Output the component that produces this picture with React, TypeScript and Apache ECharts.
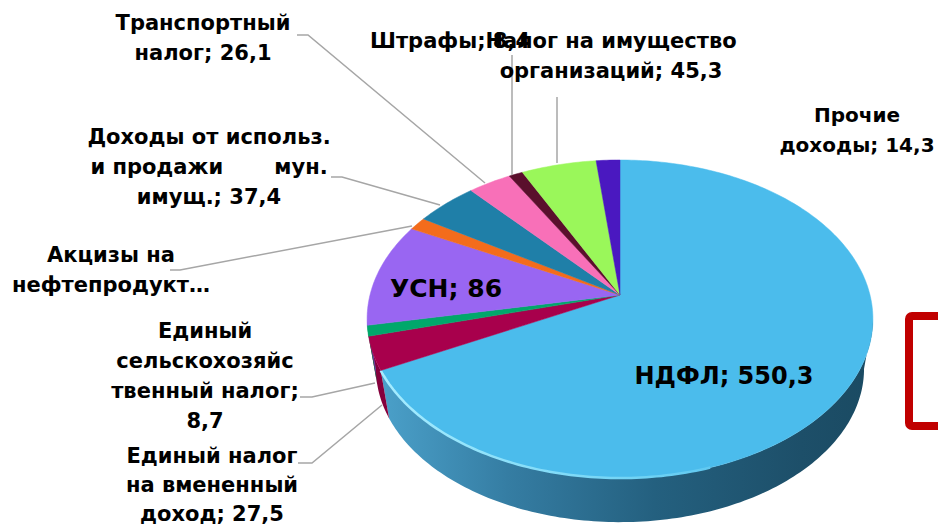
import React, { useEffect, useRef } from "react";
import * as echarts from "echarts";

const categories = [
  "НДФЛ",
  "Единый налог на вмененный доход",
  "Единый сельскохозяйственный налог",
  "УСН",
  "Акцизы на нефтепродукты",
  "Доходы от использ. и продажи мун. имущ.",
  "Транспортный налог",
  "Штрафы",
  "Налог на имущество организаций",
  "Прочие доходы",
];
const values = [550.3, 27.5, 8.7, 86, 11, 37.4, 26.1, 8.4, 45.3, 14.3];
const sliceColors = ["#4bbcec", "#a8004c", "#00a86b", "#9966f2", "#f36c1c", "#1f7fa8", "#f870b8", "#5a0f2c", "#9af75a", "#4a18c0"];
const wallColors = ["#2f7498", "#85003c", "#007a4c", "#6a45b0", "#b04c10", "#155a78", "#b04c84", "#3a0a1c", "#6cb040", "#301080"];

const FONT = "'DejaVu Sans', sans-serif";

// Label layout: [lines, anchor x, first line middle y, line step]
const labels: { lines: string[]; x: number; y: number; align?: string; size?: number; step?: number }[] = [
  { lines: ["Транспортный", "налог; 26,1"], x: 203, y: 23 },
  { lines: ["Штрафы; 8,4"], x: 370, y: 41, align: "left" },
  { lines: ["Налог на имущество", "организаций; 45,3"], x: 611, y: 41 },
  { lines: ["Прочие", "доходы; 14,3"], x: 857, y: 115, size: 20 },
  { lines: ["Доходы от использ.", "и продажи       мун.", "имущ.; 37,4"], x: 209, y: 137 },
  { lines: ["Акцизы на"], x: 111, y: 255 },
  { lines: ["нефтепродукт…"], x: 111, y: 285 },
  { lines: ["Единый", "сельскохозяйс", "твенный налог;", "8,7"], x: 205, y: 331 },
  { lines: ["Единый налог", "на вмененный", "доход; 27,5"], x: 212, y: 456, step: 29 },
  { lines: ["НДФЛ; 550,3"], x: 724, y: 376, size: 24 },
  { lines: ["УСН; 86"], x: 446, y: 288, size: 25 },
];

const leaders: number[][][] = [
  [[297, 35], [308, 35], [485, 183]],
  [[512, 55], [512, 175]],
  [[557, 97], [557, 163]],
  [[331, 177], [342, 177], [440, 205]],
  [[170, 270], [180, 270], [412, 226]],
  [[300, 397], [312, 397], [375, 383]],
  [[298, 463], [312, 463], [382, 405]],
];

// Pie projection
const CX = 620;
const CY = 295;
const A = 250;
const B = 155.4;
const K = 0.151;
const BOTTOM_SCALE = 0.965;
const BOTTOM_SHIFT = 50.5;
const WALL_START = Math.acos(-K);
const WALL_END = 2 * Math.PI - WALL_START;

const total = values.reduce((s, v) => s + v, 0);
const starts: number[] = [];
values.reduce((acc, v, i) => {
  starts[i] = acc;
  return acc + v;
}, 0);
const angleOf = (v: number) => (v / total) * 2 * Math.PI;

const pt = (t: number): number[] => {
  const w = 1 + K * Math.cos(t);
  return [CX + (A * Math.sin(t)) / w, CY - (B * Math.cos(t)) / w];
};
const ptBottom = (t: number): number[] => {
  const p = pt(t);
  return [CX + (p[0] - CX) * BOTTOM_SCALE, CY + (p[1] - CY) * BOTTOM_SCALE + BOTTOM_SHIFT];
};
const arc = (a: number, b: number, f = pt): number[][] => {
  const n = Math.max(2, Math.ceil(((b - a) * 180) / Math.PI));
  const out: number[][] = [];
  for (let i = 0; i <= n; i++) out.push(f(a + ((b - a) * i) / n));
  return out;
};

const wallGradient = {
  type: "linear",
  global: true,
  x: 385,
  y: 0,
  x2: 875,
  y2: 0,
  colorStops: [
    { offset: 0, color: "#4a9fc8" },
    { offset: 0.25, color: "#357da3" },
    { offset: 0.55, color: "#24607f" },
    { offset: 0.85, color: "#1d4f69" },
    { offset: 1, color: "#1a4a62" },
  ],
};

const renderWall = (params: any, api: any) => {
  const i = params.dataIndex;
  const a = Math.max(angleOf(starts[i]), WALL_START);
  const b = Math.min(angleOf(starts[i] + (api.value(0) as number)), WALL_END);
  if (b <= a) return { type: "group", children: [] };
  const points = [...arc(a, b), ...arc(a, b, ptBottom).reverse()];
  return {
    type: "polygon",
    shape: { points },
    style: { fill: i === 0 ? wallGradient : wallColors[i], stroke: "none" },
  };
};

const renderTop = (params: any, api: any) => {
  const i = params.dataIndex;
  const a = angleOf(starts[i]);
  const b = angleOf(starts[i] + (api.value(0) as number));
  const children: any[] = [
    {
      type: "polygon",
      shape: { points: [[CX, CY], ...arc(a, b)] },
      style: { fill: sliceColors[i], stroke: sliceColors[i], lineWidth: 0.5 },
    },
  ];
  if (i === 0) {
    children.push({
      type: "polyline",
      shape: { points: arc(Math.max(a, Math.PI * 0.9), b) },
      style: {
        fill: "none",
        lineWidth: 2.5,
        stroke: {
          type: "linear",
          global: true,
          x: 385,
          y: 0,
          x2: 800,
          y2: 0,
          colorStops: [
            { offset: 0, color: "#a5ecff" },
            { offset: 0.6, color: "#72d4f5" },
            { offset: 1, color: "#4bbcec" },
          ],
        },
      },
    });
  }
  return { type: "group", children };
};

const labelElements = () => {
  const out: any[] = [];
  labels.forEach((l) => {
    const size = l.size ?? 21;
    const step = l.step ?? 30;
    l.lines.forEach((line, j) => {
      out.push({
        type: "text",
        x: l.x,
        y: l.y + j * step,
        z: 120,
        style: {
          text: line,
          fill: "#000000",
          font: `bold ${size}px ${FONT}`,
          textAlign: l.align ?? "center",
          textVerticalAlign: "middle",
        },
      });
    });
  });
  return out;
};

export default function App() {
  const ref = useRef<HTMLDivElement>(null);
  useEffect(() => {
    document.body.style.margin = "0";
    document.body.style.background = "#ffffff";
    const chart = echarts.init(ref.current!, null, { renderer: "svg" });
    const data = values.map((v, i) => ({ name: categories[i], value: [v] }));
    chart.setOption({
      animation: false,
      backgroundColor: "#ffffff",
      series: [
        { type: "custom", coordinateSystem: "none", renderItem: renderWall, data, silent: true, z: 1 },
        { type: "custom", coordinateSystem: "none", renderItem: renderTop, data, silent: true, z: 2 },
      ],
      graphic: {
        elements: [
          ...leaders.map((points) => ({
            type: "polyline",
            z: 100,
            shape: { points },
            style: { fill: "none", stroke: "#a6a6a6", lineWidth: 1.5 },
          })),
          {
            type: "rect",
            z: 100,
            shape: { x: 909, y: 316, width: 80, height: 110, r: 3 },
            style: { fill: "none", stroke: "#c00000", lineWidth: 8 },
          },
          ...labelElements(),
        ],
      },
    });
    return () => chart.dispose();
  }, []);
  return <div ref={ref} style={{ width: 938, height: 526, position: "fixed", left: 0, top: 0 }} />;
}
